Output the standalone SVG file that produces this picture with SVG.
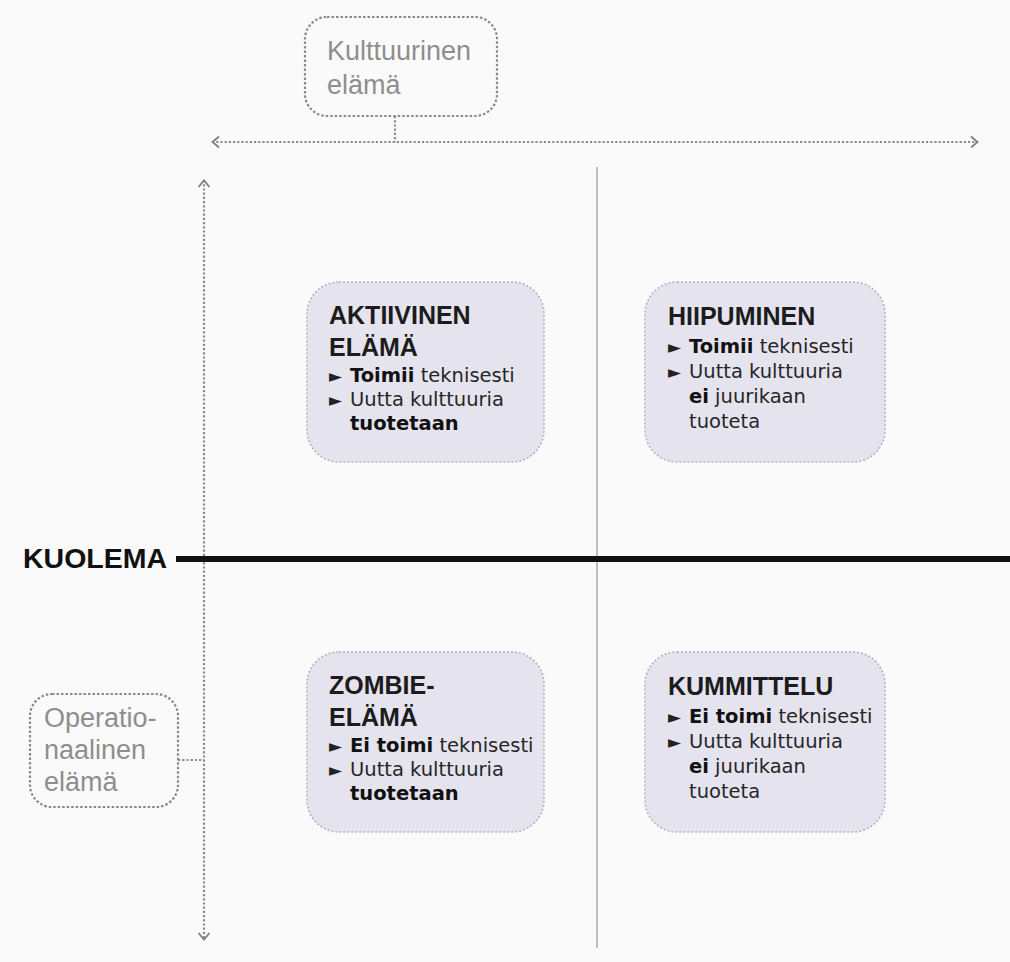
<svg xmlns="http://www.w3.org/2000/svg" width="1010" height="962" viewBox="0 0 1010 962">
<style>
.bg{fill:#fafafa}
.quad{fill:#e5e3ee;stroke:#b3b1c2;stroke-width:1.6;stroke-dasharray:2 2}
.lbl{fill:none;stroke:#8a8a8a;stroke-width:2.2;stroke-dasharray:2.5 2}
.dot{fill:none;stroke:#8c8c8c;stroke-width:2.2;stroke-dasharray:2.2 2}
.gt{font-family:"Liberation Sans",Arial,sans-serif;font-size:27px;fill:#8e8e8e}
.tt{font-family:"Liberation Sans",Arial,sans-serif;font-size:25px;font-weight:bold;fill:#1c1c1c}
.bt{font-family:"DejaVu Sans",sans-serif;font-size:19.5px;fill:#262626}
.b{font-weight:bold;fill:#111}
.tri{font-size:17px;fill:#222}
</style>
<defs>
<marker id="chev" viewBox="0 0 10 14" refX="9" refY="7" markerWidth="10" markerHeight="14" markerUnits="userSpaceOnUse" orient="auto-start-reverse">
<path d="M2,1.5 L8.5,7 L2,12.5" fill="none" stroke="#808080" stroke-width="1.8"/>
</marker>
</defs>
<rect class="bg" x="0" y="0" width="1010" height="962"/>
<g id="connectors">
<line class="dot" x1="212" y1="142" x2="978" y2="142" marker-start="url(#chev)" marker-end="url(#chev)"/>
<line class="dot" x1="204" y1="180" x2="204" y2="940" marker-start="url(#chev)" marker-end="url(#chev)"/>
<line class="dot" x1="395" y1="116" x2="395" y2="142"/>
<line class="dot" x1="178" y1="760" x2="204" y2="760"/>
<line x1="597" y1="167" x2="597" y2="948" stroke="#a8a8a8" stroke-width="1.5"/>
<line x1="176" y1="559" x2="1010" y2="559" stroke="#111" stroke-width="6"/>
</g>
<g id="kulttuurinen">
<rect class="lbl" x="305" y="17" width="192" height="99" rx="22"/>
<text class="gt" x="327" y="60">Kulttuurinen</text>
<text class="gt" x="327" y="94">elämä</text>
</g>
<g id="operationaalinen">
<rect class="lbl" x="30" y="694" width="148" height="113" rx="22"/>
<text class="gt" x="44" y="727">Operatio-</text>
<text class="gt" x="44" y="759">naalinen</text>
<text class="gt" x="44" y="791">elämä</text>
</g>
<g id="kuolema">
<text x="23" y="568" font-family="Liberation Sans, Arial, sans-serif" font-size="28.5" font-weight="bold" fill="#111">KUOLEMA</text>
</g>
<g id="aktiivinen">
<rect class="quad" x="307" y="282" width="237" height="180" rx="32"/>
<text class="tt" x="329" y="324">AKTIIVINEN</text>
<text class="tt" x="329" y="356">ELÄMÄ</text>
<text class="bt" x="329" y="382"><tspan class="tri">►</tspan><tspan x="350" class="b">Toimii</tspan> teknisesti</text>
<text class="bt" x="329" y="406"><tspan class="tri">►</tspan><tspan x="350">Uutta kulttuuria</tspan></text>
<text class="bt" x="350" y="430"><tspan class="b">tuotetaan</tspan></text>
</g>
<g id="hiipuminen">
<rect class="quad" x="645" y="282" width="240" height="180" rx="32"/>
<text class="tt" x="668" y="325">HIIPUMINEN</text>
<text class="bt" x="668" y="353"><tspan class="tri">►</tspan><tspan x="689" class="b">Toimii</tspan> teknisesti</text>
<text class="bt" x="668" y="378"><tspan class="tri">►</tspan><tspan x="689">Uutta kulttuuria</tspan></text>
<text class="bt" x="689" y="403"><tspan class="b">ei</tspan> juurikaan</text>
<text class="bt" x="689" y="428">tuoteta</text>
</g>
<g id="zombie">
<rect class="quad" x="307" y="652" width="237" height="180" rx="32"/>
<text class="tt" x="329" y="694">ZOMBIE-</text>
<text class="tt" x="329" y="726">ELÄMÄ</text>
<text class="bt" x="329" y="752"><tspan class="tri">►</tspan><tspan x="350" class="b">Ei toimi</tspan> teknisesti</text>
<text class="bt" x="329" y="776"><tspan class="tri">►</tspan><tspan x="350">Uutta kulttuuria</tspan></text>
<text class="bt" x="350" y="800"><tspan class="b">tuotetaan</tspan></text>
</g>
<g id="kummittelu">
<rect class="quad" x="645" y="652" width="240" height="180" rx="32"/>
<text class="tt" x="668" y="695">KUMMITTELU</text>
<text class="bt" x="668" y="723"><tspan class="tri">►</tspan><tspan x="689" class="b">Ei toimi</tspan> teknisesti</text>
<text class="bt" x="668" y="748"><tspan class="tri">►</tspan><tspan x="689">Uutta kulttuuria</tspan></text>
<text class="bt" x="689" y="773"><tspan class="b">ei</tspan> juurikaan</text>
<text class="bt" x="689" y="798">tuoteta</text>
</g>
</svg>
